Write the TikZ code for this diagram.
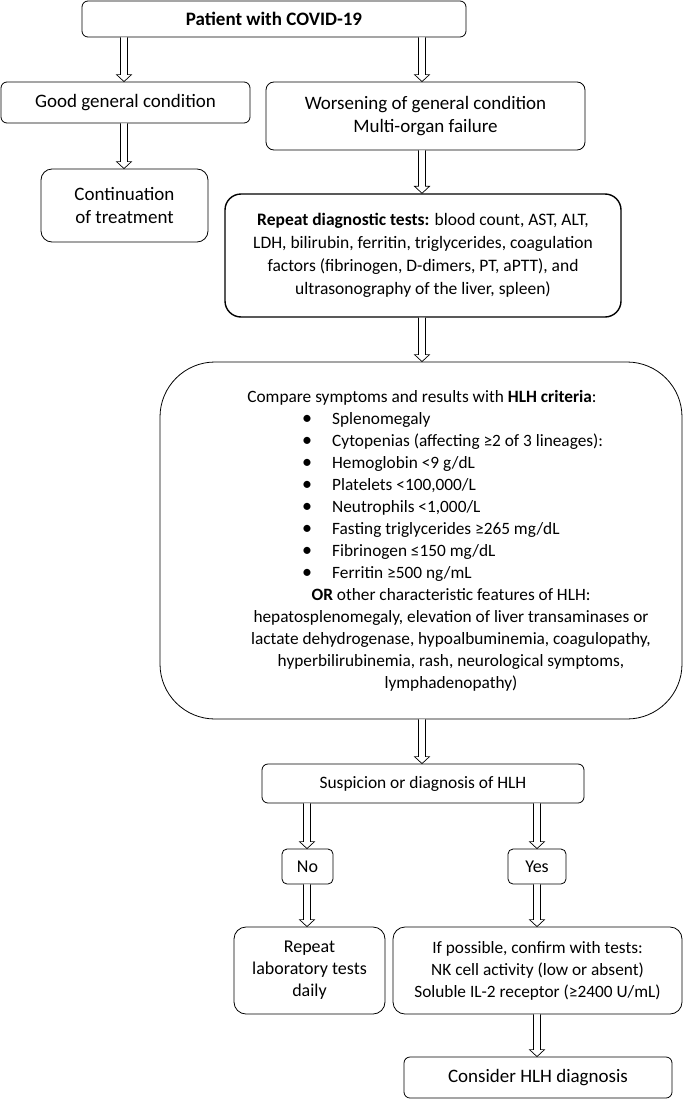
\documentclass[tikz,border=0pt]{standalone}
\usepackage{fontspec}
\setmainfont{Carlito}
\usetikzlibrary{calc}
\tikzset{
  box/.style={draw=black, line width=0.8pt, rounded corners=6pt, inner sep=0pt, align=center, font=\fontsize{19}{23}\selectfont},
  hlhtext/.style={inner sep=0pt, font=\fontsize{17.3}{22}\selectfont},
  barr/.style={draw=black, line width=0.7pt, fill=white, line join=miter},
}
\newcommand\bul{\makebox[0pt]{\fontsize{20}{20}\selectfont •}}
\newcommand\barrow[3]{%
  \draw[barr] let \p1=(#2.south), \p2=(#3.north) in
    ({#1pt-3.5pt},\y1) -- ({#1pt-3.5pt},{\y2+7pt}) -- ({#1pt-7.5pt},{\y2+7pt}) --
    ({#1pt},\y2) -- ({#1pt+7.5pt},{\y2+7pt}) -- ({#1pt+3.5pt},{\y2+7pt}) -- ({#1pt+3.5pt},\y1);}
\begin{document}
\begin{tikzpicture}[x=1pt,y=-1pt]
\useasboundingbox[fill=white] (0,0) rectangle (685,1100);
\node[box, minimum width=384pt, minimum height=36pt] (p) at (274,19) {\textbf{Patient with COVID-19}};
\node[box, minimum width=249pt, minimum height=41pt] (good) at (125.5,102.5) {Good general condition};
\node[box, minimum width=319pt, minimum height=68pt, rounded corners=8pt] (worse) at (425.5,116) {Worsening of general condition\\Multi-organ failure};
\node[box, minimum width=167pt, minimum height=73pt, rounded corners=11pt] (cont) at (124.5,205.5) {Continuation\\of treatment};
\node[box, line width=1.4pt, minimum width=396pt, minimum height=123pt, rounded corners=16pt, font=\fontsize{17.5}{23}\selectfont] (rep) at (423,255.5) {\textbf{Repeat diagnostic tests:} blood count, AST, ALT,\\LDH, bilirubin, ferritin, triglycerides, coagulation\\factors (fibrinogen, D-dimers, PT, aPTT), and\\ultrasonography of the liver, spleen)};
\node[box, minimum width=522pt, minimum height=357pt, rounded corners=55pt] (hlh) at (421,540.5) {};
\node[hlhtext] (hA) at (422,398) {Compare symptoms and results with \textbf{HLH criteria}:};
\node[hlhtext, align=left, anchor=west] (hB) at (307,497) {\bul\hspace{25pt}Splenomegaly\\
\bul\hspace{25pt}Cytopenias (affecting ≥2 of 3 lineages):\\
\bul\hspace{25pt}Hemoglobin <9 g/dL\\
\bul\hspace{25pt}Platelets <100,000/L\\
\bul\hspace{25pt}Neutrophils <1,000/L\\
\bul\hspace{25pt}Fasting triglycerides ≥265 mg/dL\\
\bul\hspace{25pt}Fibrinogen ≤150 mg/dL\\
\bul\hspace{25pt}Ferritin ≥500 ng/mL};
\node[hlhtext, align=center] (hC) at (451,640) {\textbf{OR} other characteristic features of HLH:\\hepatosplenomegaly, elevation of liver transaminases or\\lactate dehydrogenase, hypoalbuminemia, coagulopathy,\\hyperbilirubinemia, rash, neurological symptoms,\\lymphadenopathy)};
\node[box, minimum width=322pt, minimum height=39pt, font=\fontsize{17.4}{22}\selectfont] (susp) at (423,783.5) {Suspicion or diagnosis of HLH};
\node[box, minimum width=51pt, minimum height=35pt, rounded corners=5pt, font=\fontsize{18}{22}\selectfont] (no) at (307.5,866.5) {No};
\node[box, minimum width=58pt, minimum height=35pt, rounded corners=5pt, font=\fontsize{18}{22}\selectfont] (yes) at (537,866.5) {Yes};
\node[box, minimum width=151pt, minimum height=87pt, rounded corners=12pt, font=\fontsize{18}{22}\selectfont] (rlab) at (309.5,970.5) {Repeat\\laboratory tests\\daily};
\node[box, minimum width=289pt, minimum height=87pt, rounded corners=12pt, font=\fontsize{17.3}{22}\selectfont] (ifp) at (537.5,970.5) {If possible, confirm with tests:\\NK cell activity (low or absent)\\Soluble IL-2 receptor (≥2400 U/mL)};
\node[box, minimum width=268pt, minimum height=41pt] (cons) at (538,1077.5) {Consider HLH diagnosis};
\barrow{124}{p}{good}
\barrow{422}{p}{worse}
\barrow{124}{good}{cont}
\barrow{422}{worse}{rep}
\barrow{422}{rep}{hlh}
\barrow{422}{hlh}{susp}
\barrow{307}{susp}{no}
\barrow{537}{susp}{yes}
\barrow{307}{no}{rlab}
\barrow{537}{yes}{ifp}
\barrow{537}{ifp}{cons}
\end{tikzpicture}
\end{document}
